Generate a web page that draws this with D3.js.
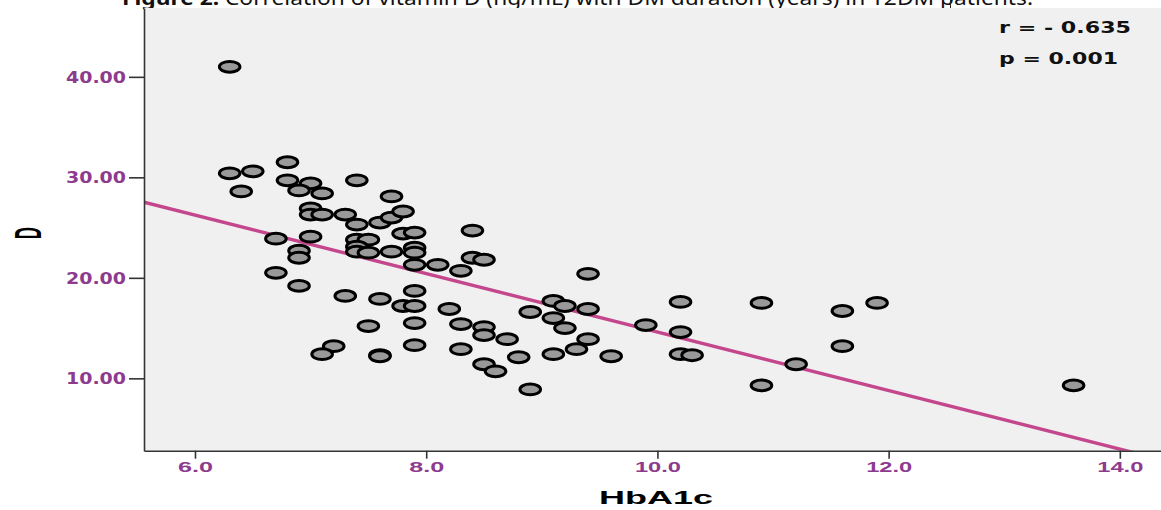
<!DOCTYPE html>
<html>
<head>
<meta charset="utf-8">
<script src="https://cdn.jsdelivr.net/npm/d3@7"></script>
<style>
  body { margin: 0; background: #ffffff; }
  svg { display: block; }
</style>
</head>
<body>
<svg id="chart" width="1161" height="510"></svg>
<script>
// HbA1c (%) and vitamin D (ng/mL) for each patient
const hba1c = [
  6.3, 6.3, 6.5, 6.4, 6.8, 6.8, 7.0, 6.9, 7.1, 7.4,
  7.7, 7.0, 7.0, 7.1, 7.3, 7.4, 7.6, 7.7, 7.8, 7.8,
  7.9, 8.4, 6.7, 7.0, 6.9, 6.9, 7.4, 7.5, 7.4, 7.4,
  7.5, 7.7, 7.9, 7.9, 7.9, 8.1, 8.3, 8.4, 8.5, 6.7,
  6.9, 7.3, 7.6, 7.8, 7.9, 7.9, 8.2, 7.5, 7.9, 8.3,
  8.5, 8.5, 8.7, 7.9, 8.3, 7.2, 7.1, 7.6, 7.6, 8.5,
  8.6, 8.8, 8.9, 8.9, 9.1, 9.2, 9.4, 9.4, 9.1, 9.2,
  9.4, 9.3, 9.1, 9.6, 9.9, 10.2, 10.2, 10.2, 10.3, 10.9,
  10.9, 11.2, 11.6, 11.6, 11.9, 13.6
];
const vitaminD = [
  41.0, 30.4, 30.6, 28.6, 31.5, 29.7, 29.4, 28.7, 28.4, 29.7,
  28.1, 26.9, 26.3, 26.3, 26.3, 25.3, 25.5, 26.0, 26.6, 24.4,
  24.5, 24.7, 23.9, 24.1, 22.7, 22.0, 23.8, 23.8, 23.1, 22.6,
  22.5, 22.6, 23.0, 22.5, 21.3, 21.3, 20.7, 22.0, 21.8, 20.5,
  19.2, 18.2, 17.9, 17.2, 17.2, 18.7, 16.9, 15.2, 15.5, 15.4,
  15.1, 14.3, 13.9, 13.3, 12.9, 13.2, 12.4, 12.3, 12.2, 11.4,
  10.7, 12.1, 8.9, 16.6, 17.7, 17.2, 16.9, 20.4, 16.0, 15.0,
  13.9, 12.9, 12.4, 12.2, 15.3, 17.6, 14.6, 12.4, 12.3, 17.5,
  9.3, 11.4, 16.7, 13.2, 17.5, 9.3
];

// Axis ticks and fitted line (D = intercept + slope * HbA1c)
const xTicks = [6, 8, 10, 12, 14];
const yTicks = [10, 20, 30, 40];
const fitIntercept = 43.7;
const fitSlope = -2.91;
const statLines = ["r = - 0.635", "p = 0.001"];
const titleBold = "Figure 2.";
const titleRest = " Correlation of vitamin D (ng/mL) with DM duration (years) in T2DM patients.";

const svg = d3.select("#chart");
const plot = { left: 144, right: 1161, top: 8, bottom: 450.7 };

const x = d3.scaleLinear().domain([5.559, 14.356]).range([plot.left, plot.right]);
const y = d3.scaleLinear().domain([2.8, 46.85]).range([plot.bottom, plot.top]);

const purple = "#8d3b8e";

// stretch a text element horizontally to a given width
function fitWidth(sel, width) {
  sel.attr("textLength", width).attr("lengthAdjust", "spacingAndGlyphs");
}

// caption line along the top edge
const title = svg.append("text")
  .attr("x", 122).attr("y", 4.5)
  .attr("font-family", "'Noto Sans', 'DejaVu Sans', sans-serif")
  .attr("font-size", 19)
  .attr("fill", "#111");
title.append("tspan").attr("font-weight", "bold").text(titleBold);
title.append("tspan").text(titleRest);
fitWidth(title, 911);
svg.append("line")
  .attr("x1", 950.5).attr("x2", 950.5).attr("y1", 0).attr("y2", 8)
  .attr("stroke", "#222").attr("stroke-width", 1);

// plot panel
svg.append("rect")
  .attr("x", plot.left).attr("y", plot.top)
  .attr("width", plot.right - plot.left).attr("height", plot.bottom - plot.top)
  .attr("fill", "#f0f0f0");

svg.append("clipPath").attr("id", "plotClip")
  .append("rect")
  .attr("x", plot.left).attr("y", plot.top)
  .attr("width", plot.right - plot.left).attr("height", plot.bottom - plot.top);

// regression line
const xd = x.domain();
svg.append("line")
  .attr("clip-path", "url(#plotClip)")
  .attr("x1", x(xd[0])).attr("y1", y(fitIntercept + fitSlope * xd[0]))
  .attr("x2", x(xd[1])).attr("y2", y(fitIntercept + fitSlope * xd[1]))
  .attr("stroke", "#c4468c").attr("stroke-width", 3.4);

// patients
svg.append("g")
  .attr("clip-path", "url(#plotClip)")
  .selectAll("ellipse")
  .data(hba1c.map((h, i) => [h, vitaminD[i]]))
  .join("ellipse")
  .attr("cx", d => x(d[0]))
  .attr("cy", d => y(d[1]))
  .attr("rx", 10.3).attr("ry", 5.4)
  .attr("fill", "#999999")
  .attr("stroke", "#000")
  .attr("stroke-width", 3);

// axes
const yAxis = svg.append("g")
  .attr("transform", `translate(${plot.left},0)`)
  .call(d3.axisLeft(y).tickValues(yTicks).tickFormat(d3.format(".2f"))
    .tickSize(15).tickSizeOuter(0).tickPadding(3));
yAxis.select(".domain").attr("stroke", "#333").attr("stroke-width", 1.6);
yAxis.selectAll(".tick line").attr("stroke", "#333").attr("stroke-width", 1.6);
yAxis.selectAll(".tick text")
  .attr("fill", purple)
  .attr("font-family", "'DejaVu Sans', Verdana, sans-serif")
  .attr("font-weight", "bold")
  .attr("font-size", 15)
  .attr("dy", "0.36em")
  .each(function () { fitWidth(d3.select(this), 60); });

const xAxis = svg.append("g")
  .attr("transform", `translate(0,${plot.bottom})`)
  .call(d3.axisBottom(x).tickValues(xTicks).tickFormat(d3.format(".1f"))
    .tickSize(8).tickSizeOuter(0).tickPadding(3));
xAxis.select(".domain").attr("stroke", "#333").attr("stroke-width", 1.6);
xAxis.selectAll(".tick line").attr("stroke", "#333").attr("stroke-width", 1.6);
xAxis.selectAll(".tick text")
  .attr("fill", purple)
  .attr("font-family", "'Liberation Sans', Arial, sans-serif")
  .attr("font-weight", "bold")
  .attr("font-size", 15)
  .each(function (d) { fitWidth(d3.select(this), d >= 10 ? 46 : 35); });

// axis titles
const xTitle = svg.append("text")
  .attr("x", 656).attr("y", 504)
  .attr("text-anchor", "middle")
  .attr("font-family", "'Liberation Sans', Arial, sans-serif")
  .attr("font-weight", "bold")
  .attr("font-size", 19)
  .attr("fill", "#000")
  .text("HbA1c");
fitWidth(xTitle, 114);

svg.append("text")
  .attr("transform", "translate(41,233) scale(2.2,1) rotate(-90)")
  .attr("text-anchor", "middle")
  .attr("font-family", "'Liberation Sans', Arial, sans-serif")
  .attr("font-weight", "bold")
  .attr("font-size", 17)
  .attr("fill", "#000")
  .text("D");

// correlation statistics
const statBaselines = [33, 64];
const statWidths = [132, 119];
statLines.forEach((s, i) => {
  const t = svg.append("text")
    .attr("x", 999).attr("y", statBaselines[i])
    .attr("font-family", "'DejaVu Sans', Verdana, sans-serif")
    .attr("font-weight", "bold")
    .attr("font-size", 15)
    .attr("fill", "#111")
    .text(s);
  fitWidth(t, statWidths[i]);
});
</script>
</body>
</html>
